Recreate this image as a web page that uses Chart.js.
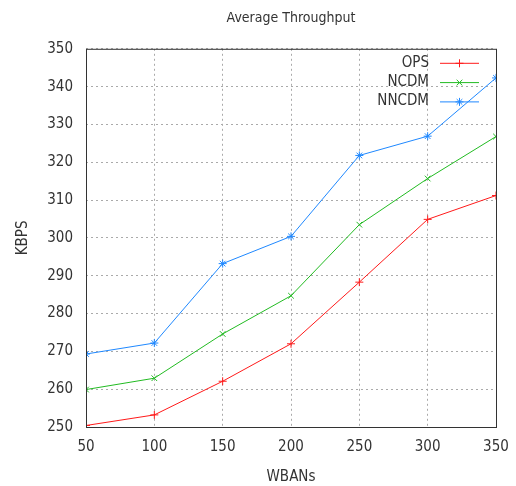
<!DOCTYPE html>
<html>
<head>
<meta charset="utf-8">
<script src="https://cdn.jsdelivr.net/npm/chart.js@4"></script>
<style>
html,body{margin:0;padding:0;background:#fff;}
#wrap{width:516px;height:486px;}
</style>
</head>
<body>
<div id="wrap"><canvas id="grafico" width="516" height="486"></canvas></div>
<script>
const wbans = [50,100,150,200,250,300,350];
const ops   = [250.4,253.2,262.1,272.0,288.3,304.9,311.2];
const ncdm  = [259.9,262.9,274.6,284.7,303.5,315.7,326.8];
const nncdm = [269.3,272.2,293.2,300.4,321.8,326.9,342.3];
const yTicks = [250,260,270,280,290,300,310,320,330,340,350];

const fuente = "'Liberation Sans Narrow','DejaVu Sans Condensed','Liberation Sans',sans-serif";

function serie(label, valores, color, punto){
    return {
        label: label,
        data: wbans.map((x,i)=>({x:x, y:valores[i]})),
        borderColor: color,
        backgroundColor: color,
        borderWidth: 1,
        pointStyle: punto,
        pointRadius: 4,
        pointBorderWidth: 1,
        fill: false,
        tension: 0
    };
}

// caja completa alrededor del grafico + leyenda estilo gnuplot
const cajaYLeyenda = {
    id: 'cajaYLeyenda',
    afterDraw(chart){
        const ctx = chart.ctx;
        const a = chart.chartArea;
        ctx.save();
        ctx.strokeStyle = '#333';
        ctx.lineWidth = 1;
        ctx.strokeRect(a.left+0.5, a.top+0.5, a.right-a.left, a.bottom-a.top);

        ctx.font = '15px ' + fuente;
        ctx.textAlign = 'right';
        ctx.textBaseline = 'middle';
        chart.data.datasets.forEach((ds,i)=>{
            const y = a.top + 14 + i*19.3;
            ctx.fillStyle = '#333';
            ctx.fillText(ds.label, a.right - 67, y);
            ctx.strokeStyle = ds.borderColor;
            ctx.beginPath();
            ctx.moveTo(a.right-56, y+0.5);
            ctx.lineTo(a.right-17, y+0.5);
            ctx.stroke();
            Chart.helpers.drawPoint(ctx, {pointStyle: ds.pointStyle, radius: 4, borderWidth: 1}, a.right-36.5, y+0.5);
        });
        ctx.restore();
    }
};

new Chart(document.getElementById('grafico'), {
    type: 'line',
    data: {
        datasets: [
            serie('OPS', ops, '#ff1a1a', 'cross'),
            serie('NCDM', ncdm, '#22bb22', 'crossRot'),
            serie('NNCDM', nncdm, '#1f88ff', 'star')
        ]
    },
    options: {
        responsive: false,
        animation: false,
        layout: {padding: {left: 0, right: 20, top: 0, bottom: 0}},
        plugins: {
            legend: {display: false},
            tooltip: {enabled: false},
            title: {
                display: true,
                fullSize: false,
                text: 'Average Throughput',
                color: '#333',
                font: {family: fuente, size: 14, weight: 'normal'},
                padding: {top: 10, bottom: 22}
            }
        },
        scales: {
            x: {
                type: 'linear',
                min: 50, max: 350,
                afterBuildTicks: s => { s.ticks = wbans.map(v=>({value:v})); },
                afterFit: s => { s.height = 59; s.paddingLeft = 0; s.paddingRight = 0; },
                grid: {color: '#aaa', drawTicks: false},
                border: {display: false, dash: [2,3]},
                ticks: {color: '#333', padding: 11, font: {family: fuente, size: 15}},
                title: {display: true, text: 'WBANs', color: '#333', font: {family: fuente, size: 15}, padding: {top: 0, bottom: 0}}
            },
            y: {
                type: 'linear',
                min: 250, max: 350,
                afterBuildTicks: s => { s.ticks = yTicks.map(v=>({value:v})); },
                afterFit: s => { s.width = 86; },
                grid: {color: '#aaa', drawTicks: false},
                border: {display: false, dash: [2,3]},
                ticks: {color: '#333', padding: 13, font: {family: fuente, size: 15}},
                title: {display: true, text: 'KBPS', color: '#333', font: {family: fuente, size: 15}, padding: {top: 14, bottom: 4}}
            }
        }
    },
    plugins: [cajaYLeyenda]
});
</script>
</body>
</html>
